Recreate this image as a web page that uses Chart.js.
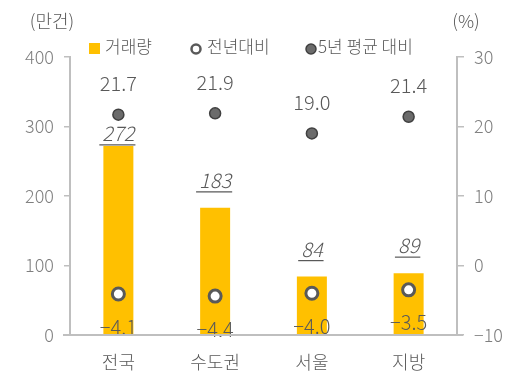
<!DOCTYPE html>
<html>
<head>
<meta charset="utf-8">
<script src="https://cdn.jsdelivr.net/npm/chart.js@4"></script>
<style>
  html, body { margin: 0; padding: 0; background: #fff; }
  #wrap { width: 528px; height: 382px; }
</style>
</head>
<body>
<div id="wrap"><canvas id="chart" width="528" height="382"></canvas></div>
<script>
// data
const regions = ["전국", "수도권", "서울", "지방"];
const volume = [272, 183, 84, 89];          // 거래량 (만건)
const yoy = [-4.1, -4.4, -4.0, -3.5];       // 전년대비 (%)
const vs5yr = [21.7, 21.9, 19.0, 21.4];     // 5년 평균 대비 (%)
const leftTicks = [0, 100, 200, 300, 400];
const rightTicks = [-10, 0, 10, 20, 30];

const FONT = "'Noto Sans CJK KR', 'Noto Sans', sans-serif";
const LABEL = "#595959";
const AXIS = "#bfbfbf";
const BAR = "#ffc000";

const fmt = v => String(v).replace("-", "\u2212");

// labels, legend and axis titles
const decor = {
    id: "decor",
    afterDatasetsDraw(chart) {
        const ctx = chart.ctx;
        const bars = chart.getDatasetMeta(0).data;
        const yoyPts = chart.getDatasetMeta(1).data;
        const avgPts = chart.getDatasetMeta(2).data;
        ctx.save();
        ctx.fillStyle = LABEL;
        ctx.strokeStyle = LABEL;
        ctx.textAlign = "center";

        // bar values, italic + underline
        ctx.font = "italic 300 20px " + FONT;
        ctx.textBaseline = "alphabetic";
        bars.forEach((b, i) => {
            let line = b.y - 16;
            // keep clear of the 5yr point above
            if (line - 22 < avgPts[i].y + 8) line = b.y - 1;
            const txt = String(volume[i]);
            const w = ctx.measureText(txt).width;
            ctx.fillText(txt, b.x, line - 4);
            ctx.lineWidth = 1.2;
            ctx.beginPath();
            ctx.moveTo(b.x - w / 2 - 3, line);
            ctx.lineTo(b.x + w / 2 + 1, line);
            ctx.stroke();
        });

        ctx.font = "300 20px " + FONT;
        ctx.textBaseline = "middle";
        avgPts.forEach((p, i) => ctx.fillText(vs5yr[i].toFixed(1), p.x, p.y - 31));
        yoyPts.forEach((p, i) => ctx.fillText(fmt(yoy[i].toFixed(1)), p.x, p.y + 33));

        // axis titles
        ctx.font = "300 18px " + FONT;
        ctx.fillText("(만건)", 52, 21);
        ctx.fillText("(%)", 466, 21);

        // legend
        ctx.font = "300 17px " + FONT;
        ctx.textAlign = "left";
        ctx.fillStyle = BAR;
        ctx.fillRect(89, 43, 11, 11);
        ctx.fillStyle = LABEL;
        ctx.fillText("거래량", 105, 47);
        ctx.beginPath();
        ctx.arc(196, 49, 4.5, 0, Math.PI * 2);
        ctx.fillStyle = "#fff";
        ctx.fill();
        ctx.lineWidth = 2.5;
        ctx.strokeStyle = "#595959";
        ctx.stroke();
        ctx.fillStyle = LABEL;
        ctx.fillText("전년대비", 207, 47);
        ctx.beginPath();
        ctx.arc(311, 49, 5, 0, Math.PI * 2);
        ctx.fillStyle = "#6b6b6b";
        ctx.fill();
        ctx.lineWidth = 1.5;
        ctx.strokeStyle = "#404040";
        ctx.stroke();
        ctx.fillStyle = LABEL;
        ctx.fillText("5년 평균 대비", 318, 47);

        // base line runs a bit past both axes
        ctx.strokeStyle = AXIS;
        ctx.lineWidth = 2;
        ctx.beginPath();
        ctx.moveTo(63, chart.chartArea.bottom);
        ctx.lineTo(463, chart.chartArea.bottom);
        ctx.stroke();
        ctx.restore();
    }
};

const tickFont = { family: FONT, size: 18, weight: 300 };

new Chart(document.getElementById("chart").getContext("2d"), {
    type: "bar",
    data: {
        labels: regions,
        datasets: [
            {
                label: "거래량",
                data: volume,
                backgroundColor: BAR,
                barPercentage: 0.62,
                categoryPercentage: 0.5,
                yAxisID: "y",
                order: 3
            },
            {
                type: "line",
                label: "전년대비",
                data: yoy,
                showLine: false,
                pointRadius: 6,
                pointBorderWidth: 3,
                pointBackgroundColor: "#ffffff",
                pointBorderColor: "#595959",
                yAxisID: "y2",
                order: 1
            },
            {
                type: "line",
                label: "5년 평균 대비",
                data: vs5yr,
                showLine: false,
                pointRadius: 5.5,
                pointBorderWidth: 1.5,
                pointBackgroundColor: "#6b6b6b",
                pointBorderColor: "#404040",
                yAxisID: "y2",
                order: 2
            }
        ]
    },
    options: {
        responsive: false,
        animation: false,
        layout: { padding: { top: 57, left: 0, right: 0, bottom: 0 } },
        plugins: { legend: { display: false }, tooltip: { enabled: false } },
        scales: {
            x: {
                grid: { display: false },
                border: { color: AXIS, width: 2 },
                ticks: { color: LABEL, font: tickFont, padding: 8 },
                afterFit: s => { s.height = 47; }
            },
            y: {
                position: "left",
                min: 0,
                max: 400,
                afterBuildTicks: s => { s.ticks = leftTicks.map(v => ({ value: v })); },
                grid: { drawOnChartArea: false, color: AXIS, lineWidth: 1.5, tickLength: 6 },
                border: { color: AXIS, width: 2 },
                ticks: { color: "#7f7f7f", font: tickFont, padding: 10 },
                afterFit: s => { s.width = 70; }
            },
            y2: {
                position: "right",
                min: -10,
                max: 30,
                afterBuildTicks: s => { s.ticks = rightTicks.map(v => ({ value: v })); },
                grid: { drawOnChartArea: false, color: AXIS, lineWidth: 1.5, tickLength: 7 },
                border: { color: AXIS, width: 2 },
                ticks: { color: "#7f7f7f", font: tickFont, padding: 10, callback: v => fmt(v) },
                afterFit: s => { s.width = 71; }
            }
        }
    },
    plugins: [decor]
});
</script>
</body>
</html>
